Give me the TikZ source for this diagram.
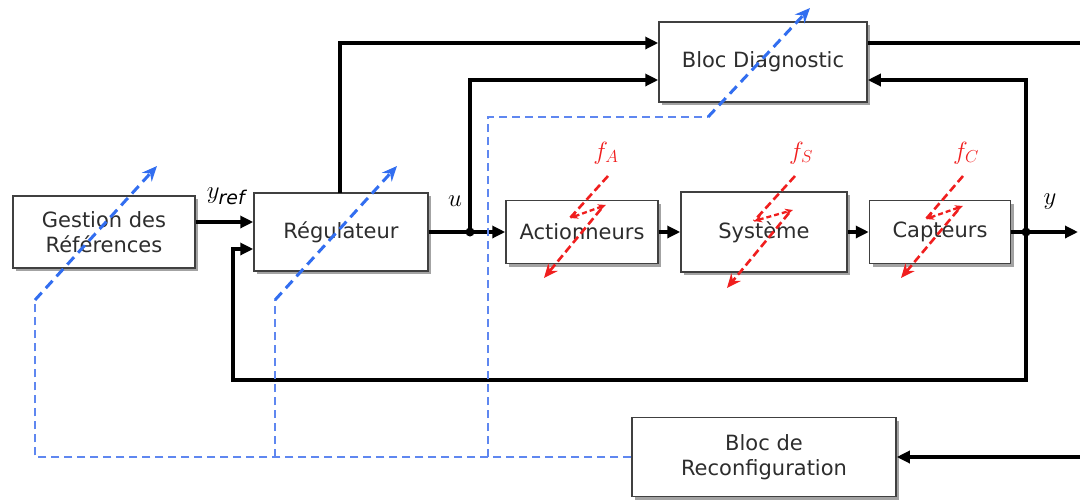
\documentclass[tikz,border=0pt]{standalone}
\usepackage{fontspec}
\setmainfont{DejaVu Sans}
\usetikzlibrary{arrows.meta,shadows,calc}
\definecolor{bluedash}{RGB}{50,110,240}
\definecolor{bluethin}{RGB}{95,135,240}
\definecolor{faultred}{RGB}{240,30,30}
\definecolor{txt}{RGB}{45,45,45}
\begin{document}
\begin{tikzpicture}[x=1pt,y=-1pt,
  blk/.style={draw=black!75,line width=1.5pt,fill=white,text=txt,
    drop shadow={shadow xshift=3pt,shadow yshift=-3pt,fill=black!45,opacity=0.8},
    font=\fontsize{21}{25}\selectfont,align=center,inner sep=0pt},
  sig/.style={line width=3.2pt,-{Triangle[length=13pt,width=12pt]}},
  ln/.style={line width=3.2pt},
  reconfl/.style={bluethin,line width=1.5pt,dash pattern=on 8pt off 5pt},
  adj/.style={bluedash,line width=3pt,dash pattern=on 10pt off 6pt,-{Stealth[length=15pt,width=13pt]}},
  fault/.style={faultred,line width=2.6pt,dash pattern=on 8pt off 4pt,-{Stealth[length=14pt,width=12pt]}},
  faultmid/.style={faultred,line width=2.3pt,dash pattern=on 5pt off 3pt,{Stealth[length=8pt,width=7pt]}-{Stealth[length=8pt,width=7pt]}},
  lab/.style={font=\fontsize{27}{30}\selectfont},
  flab/.style={text=faultred,font=\fontsize{26}{30}\selectfont}
]
\useasboundingbox (0,0) rectangle (1080,499);

% blocks
\node[blk,minimum width=182pt,minimum height=72pt] (gest) at (104,232) {Gestion des\\Références};
\node[blk,minimum width=174pt,minimum height=78pt] (reg) at (341,232) {Régulateur};
\node[blk,minimum width=152pt,minimum height=63pt] (act) at (582,232) {Actionneurs};
\node[blk,minimum width=166pt,minimum height=80pt] (sys) at (764,232) {Système};
\node[blk,minimum width=141pt,minimum height=63pt] (cap) at (940,232) {Capteurs};
\node[blk,minimum width=208pt,minimum height=80pt] (diag) at (763,62) {Bloc Diagnostic};
\node[blk,minimum width=264pt,minimum height=79pt] (rec) at (764,457) {Bloc de\\Reconfiguration};

% coordinates
\coordinate (du) at (470,232);
\coordinate (dy) at (1026,232);
\coordinate (yend) at (1078,232);
\coordinate (regtop) at (340,193);
\coordinate (topc) at (340,43);
\coordinate (diagout) at (1080,43);
\coordinate (recin) at (1080,457);
\coordinate (fbr) at (1026,380);
\coordinate (fbl) at (233,380);

% main chain
\draw[sig] ([yshift=10pt]gest.east) -- ([yshift=10pt]reg.west);
\draw[ln] (reg.east) -- (du);
\draw[sig] (du) -- (act.west);
\draw[sig] (act.east) -- (sys.west);
\draw[sig] (sys.east) -- (cap.west);
\draw[ln] (cap.east) -- (dy);
\draw[sig] (dy) -- (yend);
\fill (du) circle (4.5pt);
\fill (dy) circle (4.5pt);

% to / from diagnostic
\draw[sig] (regtop) -- (topc) -- ([yshift=19pt]diag.west);
\draw[sig] (du) -- (du |- 0,80) -- ([yshift=-18pt]diag.west);
\draw[sig] (dy) -- (dy |- 0,80) -- ([yshift=-18pt]diag.east);
\draw[ln] ([yshift=19pt]diag.east) -- (diagout);

% feedback
\draw[sig] (dy) -- (fbr) -- (fbl) -- (fbl |- 0,249) -- ([yshift=-17pt]reg.west);

% reconfiguration input
\draw[sig] (recin) -- (rec.east);

% reconfiguration dashed lines
\coordinate (b1) at (35,300);
\coordinate (b2) at (275,300);
\coordinate (b3) at (488,117);
\coordinate (b3r) at (708,117);
\draw[reconfl] (rec.west) -- (35,457) -- (b1);
\draw[reconfl] (275,457) -- (b2);
\draw[reconfl] (488,457) -- (b3) -- (b3r);
\coordinate (t1) at (157,166);
\coordinate (t2) at (397,166);
\coordinate (t3) at (810,8);
\draw[adj] (b1) -- (t1);
\draw[adj] (b2) -- (t2);
\draw[adj] (b3r) -- (t3);

% faults
\draw[fault,-] (608,176) -- (570,218);
\draw[faultmid] (570,218) -- (606,205);
\draw[fault] (601,209) -- (544,278);
\draw[fault,-] (795,176) -- (754,221);
\draw[faultmid] (754,221) -- (793,210);
\draw[fault] (789,213) -- (727,288);
\draw[fault,-] (963,176) -- (926,219);
\draw[faultmid] (926,219) -- (963,206);
\draw[fault] (958,210) -- (901,278);

% labels
\node[flab] (fa) at (606,153) {$f_A$};
\node[flab] (fs) at (801,153) {$f_S$};
\node[flab] (fc) at (966,153) {$f_C$};
\node[lab] (yref) at (226,196) {$y_{\mathit{ref}}$};
\node[lab] (ul) at (455,201) {$u$};
\node[lab] (yl) at (1050,202) {$y$};
\end{tikzpicture}
\end{document}
